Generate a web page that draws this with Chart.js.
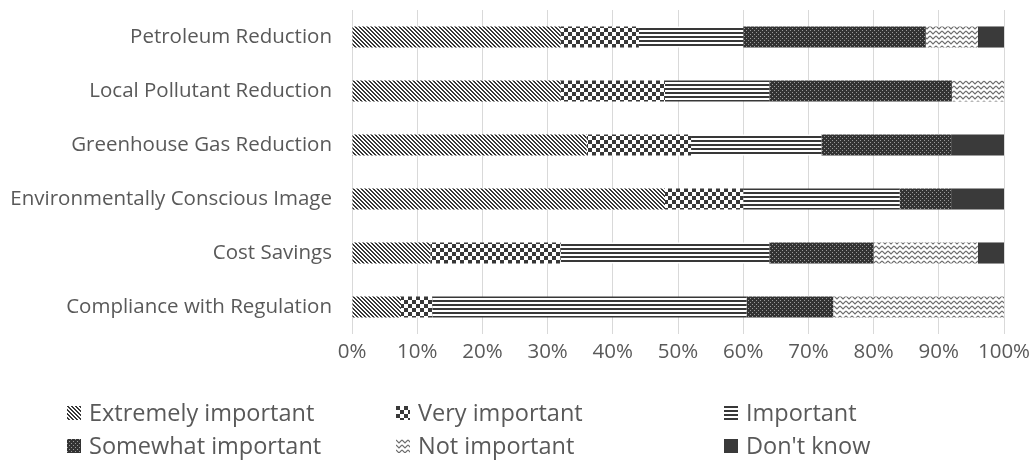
<!DOCTYPE html>
<html>
<head>
<meta charset="utf-8">
<script src="https://cdn.jsdelivr.net/npm/chart.js@4/dist/chart.umd.min.js"></script>
<style>
  html, body { margin: 0; padding: 0; background: #fff; }
  #wrap { position: relative; width: 1034px; height: 468px; overflow: hidden; }
  #chart { position: absolute; left: 0; top: 0; }
  .lg { position: absolute; display: flex; align-items: center; font-family: "Open Sans", sans-serif;
        font-size: 23.5px; color: #595959; white-space: nowrap; line-height: 1; }
  .lg canvas { width: 14px; height: 14px; margin-right: 8px; flex: none; }
</style>
</head>
<body>
<div id="wrap">
  <canvas id="chart" width="1034" height="468"></canvas>
  <div id="legend"></div>
</div>
<script>
// Survey categories, top to bottom
const categories = [
  'Petroleum Reduction',
  'Local Pollutant Reduction',
  'Greenhouse Gas Reduction',
  'Environmentally Conscious Image',
  'Cost Savings',
  'Compliance with Regulation'
];

const seriesNames = ['Extremely important', 'Very important', 'Important',
                     'Somewhat important', 'Not important', "Don't know"];

// Share of responses (%) per category
const extremelyImportant = [32, 32, 36, 48, 12, 7.5];
const veryImportant      = [12, 16, 16, 12, 20, 4.8];
const important          = [16, 16, 20, 24, 32, 48.2];
const somewhatImportant  = [28, 28, 20,  8, 16, 13.3];
const notImportant       = [ 8,  8,  0,  0, 16, 26.2];
const dontKnow           = [ 4,  0,  8,  8,  4, 0];

const xTickLabels = ['0%', '10%', '20%', '30%', '40%', '50%', '60%', '70%', '80%', '90%', '100%'];

// ---- fill patterns -------------------------------------------------------
function tile(w, h, draw) {
  const c = document.createElement('canvas');
  c.width = w; c.height = h;
  draw(c.getContext('2d'));
  return c;
}
const patCtx = document.createElement('canvas').getContext('2d');
const DARK = '#383838';

const tiles = [
  // diagonal stripes
  tile(4, 4, g => {
    g.fillStyle = '#fff'; g.fillRect(0, 0, 4, 4);
    g.fillStyle = DARK;
    for (let y = 0; y < 4; y++) {
      g.fillRect(y % 4, y, 1, 1);
      g.fillRect((y + 1) % 4, y, 1, 1);
    }
  }),
  // large checkerboard
  tile(8, 8, g => {
    g.fillStyle = '#fff'; g.fillRect(0, 0, 8, 8);
    g.fillStyle = DARK;
    g.fillRect(0, 0, 4, 4); g.fillRect(4, 4, 4, 4);
  }),
  // horizontal lines
  tile(4, 4, g => {
    g.fillStyle = '#fff'; g.fillRect(0, 0, 4, 4);
    g.fillStyle = DARK; g.fillRect(0, 0, 4, 2);
  }),
  // dark with small dots
  tile(4, 4, g => {
    g.fillStyle = '#333'; g.fillRect(0, 0, 4, 4);
    g.fillStyle = '#9a9a9a';
    g.fillRect(0, 0, 1, 1); g.fillRect(2, 2, 1, 1);
  }),
  // zigzag waves
  tile(6, 5, g => {
    g.fillStyle = '#fff'; g.fillRect(0, 0, 6, 5);
    g.strokeStyle = '#6e6e6e'; g.lineWidth = 1.2;
    g.beginPath(); g.moveTo(0, 1); g.lineTo(3, 4); g.lineTo(6, 1); g.stroke();
  }),
  // solid
  tile(2, 2, g => { g.fillStyle = '#3a3a3a'; g.fillRect(0, 0, 2, 2); })
];
const fills = tiles.map(t => patCtx.createPattern(t, 'repeat'));

const seriesValues = [extremelyImportant, veryImportant, important,
                      somewhatImportant, notImportant, dontKnow];

function draw() {
  const ctx = document.getElementById('chart').getContext('2d');
  new Chart(ctx, {
    type: 'bar',
    data: {
      labels: categories,
      datasets: seriesNames.map((name, i) => ({
        label: name,
        data: seriesValues[i],
        backgroundColor: fills[i],
        borderWidth: 0,
        barPercentage: 0.39,
        categoryPercentage: 1
      }))
    },
    options: {
      indexAxis: 'y',
      responsive: false,
      animation: false,
      layout: { padding: { top: 10, right: 30, bottom: 100, left: 0 } },
      plugins: { legend: { display: false }, tooltip: { enabled: false } },
      scales: {
        x: {
          stacked: true, min: 0, max: 100,
          border: { display: false },
          grid: { color: '#d9d9d9', drawTicks: false, lineWidth: 1 },
          ticks: {
            stepSize: 10, padding: 6, color: '#595959',
            font: { family: 'Open Sans', size: 20.5 },
            callback: (v, i) => xTickLabels[i]
          },
          afterFit(s) { s.height = 34; s.paddingLeft = 0; s.paddingRight = 0; }
        },
        y: {
          stacked: true,
          grid: { display: false, drawTicks: false },
          border: { display: false },
          ticks: { padding: 20, color: '#595959', font: { family: 'Open Sans', size: 20.5 } },
          afterFit(s) { s.width = 352; s.paddingTop = 0; s.paddingBottom = 0; }
        }
      }
    }
  });

  // legend: three columns, two rows
  const legend = document.getElementById('legend');
  const colX = [67, 396, 724];
  const rowY = [413, 446];
  seriesNames.forEach((name, i) => {
    const item = document.createElement('div');
    item.className = 'lg';
    item.style.left = colX[i % 3] + 'px';
    item.style.top = (rowY[Math.floor(i / 3)] - 14) + 'px';
    item.style.height = '28px';
    const sw = document.createElement('canvas');
    sw.width = 14; sw.height = 14;
    const g = sw.getContext('2d');
    g.fillStyle = fills[i]; g.fillRect(0, 0, 14, 14);
    item.appendChild(sw);
    const t = document.createElement('span');
    t.textContent = name;
    item.appendChild(t);
    legend.appendChild(item);
  });
}

if (document.fonts && document.fonts.load) {
  document.fonts.load('20px "Open Sans"').then(draw, draw);
} else {
  draw();
}
</script>
</body>
</html>
